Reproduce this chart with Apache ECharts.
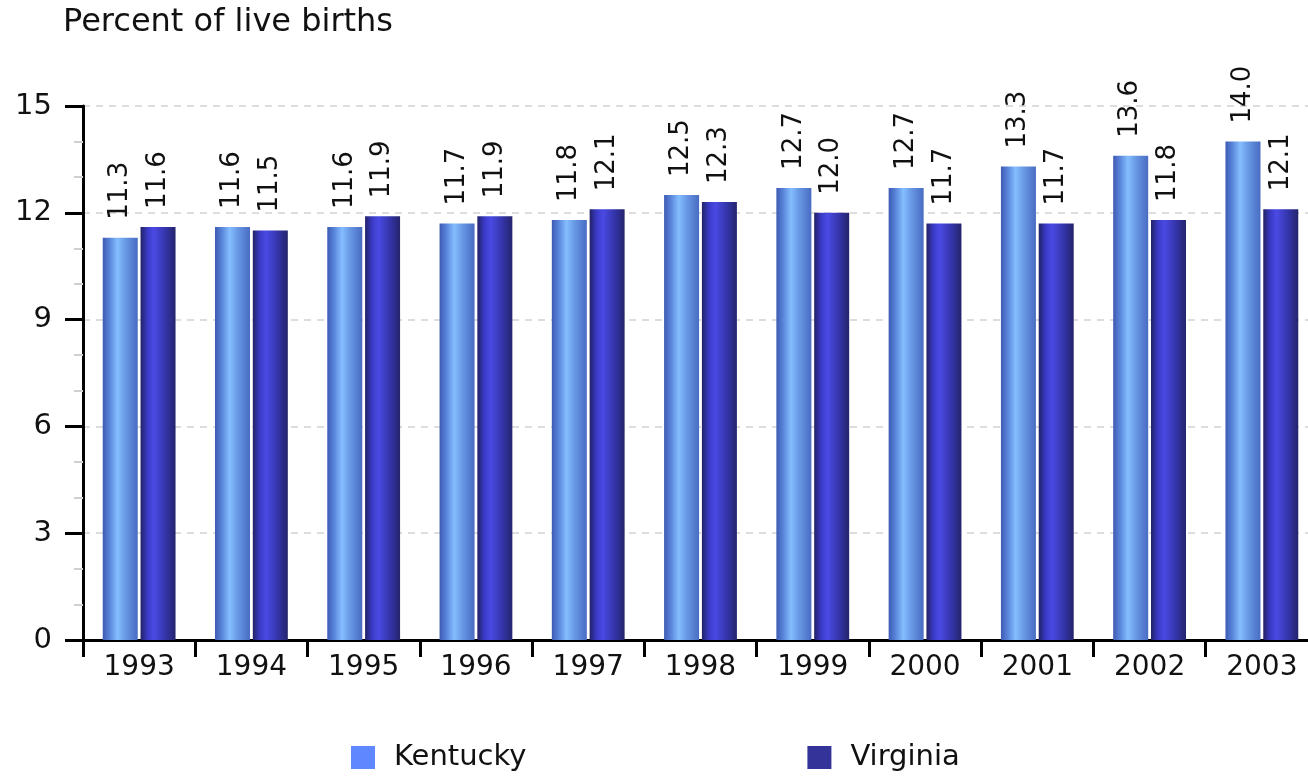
<!DOCTYPE html>
<html>
<head>
<meta charset="utf-8">
<title>Percent of live births</title>
<script src="https://cdn.jsdelivr.net/npm/echarts@6/dist/echarts.min.js"></script>
<style>
html, body { margin: 0; padding: 0; background: #ffffff; }
#main { width: 1308px; height: 777px; }
</style>
</head>
<body>
<div id="main"></div>
<script>
// 数据
var years = ['1993', '1994', '1995', '1996', '1997', '1998', '1999', '2000', '2001', '2002', '2003'];
var kentucky = [11.3, 11.6, 11.6, 11.7, 11.8, 12.5, 12.7, 12.7, 13.3, 13.6, 14.0];
var virginia = [11.6, 11.5, 11.9, 11.9, 12.1, 12.3, 12.0, 11.7, 11.7, 11.8, 12.1];
var yTicks = [0, 3, 6, 9, 12, 15];

var font = 'DejaVu Sans';

// 柱子横向渐变
function barGradient(stops) {
    return new echarts.graphic.LinearGradient(0, 0, 1, 0, stops);
}
var kyFill = barGradient([
    { offset: 0, color: '#3d5ab4' },
    { offset: 0.2, color: '#5a86da' },
    { offset: 0.42, color: '#84beff' },
    { offset: 0.65, color: '#6898e4' },
    { offset: 1, color: '#486cc2' }
]);
var vaFill = barGradient([
    { offset: 0, color: '#222266' },
    { offset: 0.2, color: '#3a3ac6' },
    { offset: 0.38, color: '#4a4ae4' },
    { offset: 0.7, color: '#3535ac' },
    { offset: 1, color: '#24246c' }
]);

var barLabel = {
    show: true,
    position: 'top',
    rotate: 90,
    align: 'left',
    verticalAlign: 'middle',
    distance: 18,
    fontFamily: font,
    fontSize: 26,
    color: '#111111',
    formatter: function (p) { return p.value.toFixed(1); }
};

var myChart = echarts.init(document.getElementById('main'));
var option = {
    animation: false,
    title: {
        text: 'Percent of live births',
        left: 58,
        top: 2,
        textStyle: { fontFamily: font, fontSize: 32, fontWeight: 'normal', color: '#111111' }
    },
    legend: {
        left: 346,
        top: 738,
        itemWidth: 24,
        itemHeight: 23,
        itemGap: 281,
        icon: 'rect',
        textStyle: { fontFamily: font, fontSize: 29, color: '#111111', padding: [0, 0, 0, 14] },
        data: [
            { name: 'Kentucky', itemStyle: { color: '#5f87ff' } },
            { name: 'Virginia', itemStyle: { color: '#343399' } }
        ]
    },
    // 右边超出画面一点，最后一个类目被裁掉
    grid: {
        left: 83,
        width: 1235,
        top: 106,
        height: 534,
        containLabel: false,
        outerBoundsMode: 'none'
    },
    xAxis: {
        type: 'category',
        data: years,
        axisLine: { lineStyle: { color: '#000000', width: 3 } },
        axisTick: { show: true, length: 17, lineStyle: { color: '#000000', width: 3 } },
        axisLabel: { fontFamily: font, fontSize: 28, color: '#111111', margin: 14 }
    },
    yAxis: {
        type: 'value',
        min: yTicks[0],
        max: yTicks[yTicks.length - 1],
        interval: 3,
        axisLine: { show: true, lineStyle: { color: '#000000', width: 3 } },
        axisTick: { show: true, length: 18, lineStyle: { color: '#000000', width: 3 } },
        minorTick: { show: true, splitNumber: 3, length: 9, lineStyle: { color: '#d0d0d0', width: 2 } },
        axisLabel: { fontFamily: font, fontSize: 29, color: '#111111', margin: 31 },
        splitLine: { show: true, lineStyle: { color: '#dddddd', width: 2, type: [7, 6] } }
    },
    series: [
        {
            name: 'Kentucky',
            type: 'bar',
            data: kentucky,
            barWidth: 35,
            barGap: '8%',
            itemStyle: { color: kyFill },
            label: barLabel
        },
        {
            name: 'Virginia',
            type: 'bar',
            data: virginia,
            barWidth: 35,
            itemStyle: { color: vaFill },
            label: barLabel
        }
    ]
};
myChart.setOption(option);
</script>
</body>
</html>
